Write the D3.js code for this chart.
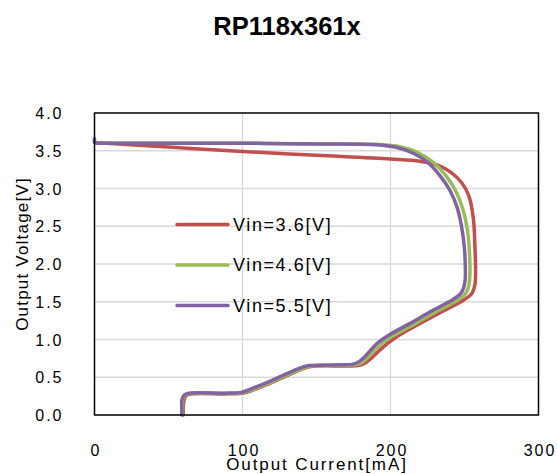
<!DOCTYPE html>
<html><head><meta charset="utf-8">
<script src="https://cdn.jsdelivr.net/npm/d3@7/dist/d3.min.js"></script>
<style>body{margin:0;background:#fff;}svg{display:block;}</style>
</head><body><div id="chart"></div>
<script>
const title = "RP118x361x";
const xTicks = [0, 100, 200, 300];
const yTicks = [0, 0.5, 1.0, 1.5, 2.0, 2.5, 3.0, 3.5, 4.0];
const seriesNames = ["Vin=3.6[V]", "Vin=4.6[V]", "Vin=5.5[V]"];
const seriesColors = ["#c0504d", "#9bbb59", "#8064a2"];
// [current mA, voltage V]
const vin36 = [[0,3.61],[50,3.55],[100,3.49],[150,3.44],[200,3.39],[220,3.36],[232,3.31],[241,3.21],[248,3.08],[253,2.9],[256,2.6],[257,2.25],[257.5,1.9],[257,1.72],[255,1.61],[250,1.53],[235,1.37],[215,1.16],[203,1.02],[195,0.9],[188,0.77],[183,0.69],[178,0.655],[170,0.65],[147,0.645],[142,0.62],[122,0.45],[107,0.33],[101,0.29],[90,0.28],[66,0.28],[62,0.26],[60.5,0.2],[60,0.1],[60,0.0]];
const vin46 = [[0,3.64],[0.3,3.605],[3,3.6],[50,3.6],[100,3.6],[150,3.59],[190,3.585],[207,3.55],[218,3.48],[228,3.36],[237,3.18],[244,2.97],[249,2.72],[252,2.45],[253.5,2.1],[253.5,1.8],[252.5,1.68],[250,1.59],[246,1.53],[232,1.38],[214,1.18],[201,1.04],[193,0.93],[186,0.79],[181,0.7],[176,0.665],[170,0.66],[146,0.65],[141,0.62],[121,0.45],[106,0.33],[100,0.295],[90,0.285],[65,0.285],[61.5,0.265],[59.5,0.2],[59.5,0.1],[59.5,0.0]];
const vin55 = [[0,3.66],[0.3,3.605],[3,3.6],[50,3.6],[100,3.6],[150,3.59],[190,3.58],[205,3.54],[215,3.47],[225,3.35],[233,3.18],[240,2.98],[245,2.75],[248,2.5],[250,2.2],[250.5,2.0],[250.5,1.8],[249.5,1.69],[247.5,1.61],[243,1.54],[229,1.39],[212,1.2],[199,1.06],[191,0.95],[184,0.8],[179,0.71],[174,0.67],[168,0.665],[145,0.655],[140,0.63],[120,0.46],[105,0.34],[99,0.3],[90,0.29],[64,0.29],[61,0.27],[59,0.2],[59,0.1],[59,0.0]];
const seriesData = [vin36, vin46, vin55];

const W = 557, H = 474;
const m = {left: 94.5, right: 538.5, top: 113, bottom: 415};
const svg = d3.select("#chart").append("svg").attr("width", W).attr("height", H);

const x = d3.scaleLinear().domain([0, 300]).range([m.left, m.right]);
const y = d3.scaleLinear().domain([0, 4]).range([m.bottom, m.top]);
const numFont = "Liberation Sans, Arial, sans-serif";

// gridlines
svg.append("g").selectAll("line").data(yTicks.filter(d => d > 0 && d < 4)).join("line")
  .attr("x1", m.left).attr("x2", m.right).attr("y1", d => y(d)).attr("y2", d => y(d))
  .attr("stroke", "#d9d9d9").attr("stroke-width", 1.3);
svg.append("g").selectAll("line").data(xTicks.filter(d => d > 0 && d < 300)).join("line")
  .attr("y1", m.top).attr("y2", m.bottom).attr("x1", d => x(d)).attr("x2", d => x(d))
  .attr("stroke", "#d9d9d9").attr("stroke-width", 1.3);

// axes (labels only)
const xAxis = svg.append("g").attr("transform", `translate(1,${m.bottom + 38})`)
  .call(d3.axisBottom(x).tickValues(xTicks).tickSize(0).tickFormat(d3.format("d")));
xAxis.select(".domain").remove();
xAxis.selectAll("text").attr("font-family", numFont).attr("font-size", 16).attr("letter-spacing", 2).attr("fill", "#000").attr("dy", "0");
const yAxis = svg.append("g").attr("transform", `translate(${m.left - 28},0)`)
  .call(d3.axisLeft(y).tickValues(yTicks).tickSize(0).tickFormat(d3.format(".1f")));
yAxis.select(".domain").remove();
yAxis.selectAll("text").attr("font-family", numFont).attr("font-size", 16).attr("letter-spacing", 2).attr("fill", "#000").attr("dy", "0.35em");

// series
const line = d3.line().x(d => x(d[0])).y(d => y(d[1])).curve(d3.curveCatmullRom.alpha(0.5));
seriesData.forEach((s, i) => {
  svg.append("path").datum(s).attr("d", line).attr("fill", "none")
    .attr("stroke", seriesColors[i]).attr("stroke-width", 3.5)
    .attr("stroke-linejoin", "round").attr("stroke-linecap", "round");
});

// plot border
svg.append("rect").attr("x", m.left).attr("y", m.top).attr("width", m.right - m.left).attr("height", m.bottom - m.top)
  .attr("fill", "none").attr("stroke", "#000").attr("stroke-width", 1.5);

// legend
const lg = svg.append("g");
seriesNames.forEach((n, i) => {
  const ly = 224.5 + i * 40.5;
  lg.append("line").attr("x1", 177).attr("x2", 228).attr("y1", ly).attr("y2", ly)
    .attr("stroke", seriesColors[i]).attr("stroke-width", 3.5).attr("stroke-linecap", "round");
  lg.append("text").attr("x", 233).attr("y", ly).attr("dy", "0.36em").text(n)
    .attr("font-family", numFont).attr("font-size", 18).attr("letter-spacing", 1.6).attr("fill", "#000");
});

// titles
svg.append("text").attr("x", 287).attr("y", 35).attr("text-anchor", "middle").text(title)
  .attr("font-family", numFont).attr("font-weight", "bold").attr("font-size", 25.5);
svg.append("text").attr("x", 317).attr("y", 464).attr("dy", "0.36em").attr("text-anchor", "middle").text("Output Current[mA]")
  .attr("font-family", numFont).attr("font-size", 17).attr("letter-spacing", 1.9);
svg.append("text").attr("transform", "translate(22,254) rotate(-90)").attr("dy", "0.36em").attr("text-anchor", "middle").text("Output Voltage[V]")
  .attr("font-family", numFont).attr("font-size", 17).attr("letter-spacing", 1.2);
</script></body></html>
